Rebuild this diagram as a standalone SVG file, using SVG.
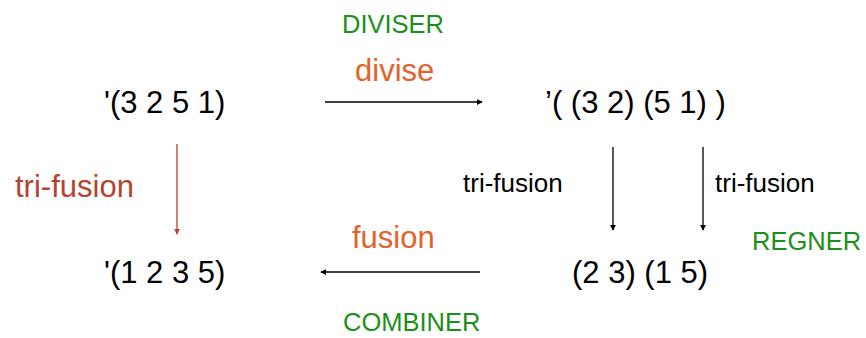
<svg xmlns="http://www.w3.org/2000/svg" width="866" height="338" viewBox="0 0 866 338">
<defs>
<style>
text{font-family:"Liberation Sans",Arial,sans-serif;}
.big{font-size:31px;fill:#000;}
.green{font-size:25.5px;fill:#1a8f1a;}
.orange{font-size:31px;fill:#e2622a;}
.brown{font-size:31px;fill:#b3432f;}
.small{font-size:26px;fill:#000;}
.conn{stroke:#000;stroke-width:1.3;fill:none;}
.connr{stroke:#b3432f;stroke-width:1.3;fill:none;}
</style>
<marker id="ah" viewBox="0 0 8 8" refX="7" refY="4" markerWidth="6" markerHeight="6" markerUnits="userSpaceOnUse" orient="auto"><path d="M0,0 L8,4 L0,8 z" fill="#000"/></marker>
<marker id="ahr" viewBox="0 0 8 8" refX="7" refY="4" markerWidth="6" markerHeight="6" markerUnits="userSpaceOnUse" orient="auto"><path d="M0,0 L8,4 L0,8 z" fill="#b3432f"/></marker>
</defs>
<g id="connectors">
<line class="conn" x1="325" y1="102" x2="482" y2="102" marker-end="url(#ah)"/>
<line class="conn" x1="480" y1="272" x2="321" y2="272" marker-end="url(#ah)"/>
<line class="connr" x1="177" y1="144" x2="177" y2="234" marker-end="url(#ahr)"/>
<line class="conn" x1="613" y1="147" x2="613" y2="230" marker-end="url(#ah)"/>
<line class="conn" x1="703" y1="147" x2="703" y2="230" marker-end="url(#ah)"/>
</g>
<g id="labels">
<text class="green" x="342" y="33">DIVISER</text>
<text class="orange" x="355" y="81">divise</text>
<text class="brown" x="15" y="197">tri-fusion</text>
<text class="small" x="463" y="192">tri-fusion</text>
<text class="small" x="715" y="192">tri-fusion</text>
<text class="green" x="752" y="250">REGNER</text>
<text class="orange" x="352" y="248">fusion</text>
<text class="green" x="343" y="331">COMBINER</text>
</g>
<g id="n1"><text class="big" x="104" y="113">'(3 2 5 1)</text></g>
<g id="n2"><text class="big" x="545" y="113">’( (3 2) (5 1) )</text></g>
<g id="n3"><text class="big" x="572" y="283">(2 3) (1 5)</text></g>
<g id="n4"><text class="big" x="104" y="283">'(1 2 3 5)</text></g>
</svg>
